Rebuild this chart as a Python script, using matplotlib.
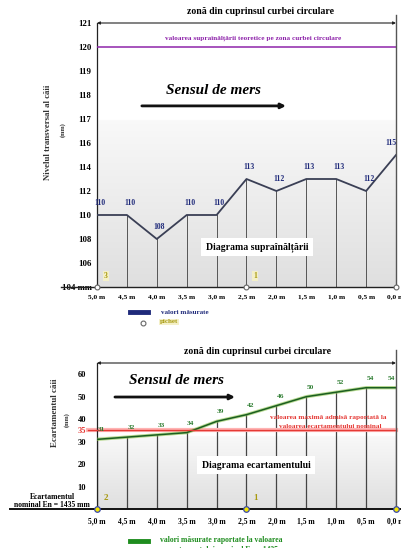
import numpy as np
import matplotlib
matplotlib.use("Agg")
import matplotlib.pyplot as plt
from matplotlib.lines import Line2D

plt.rcParams['font.family'] = ['Liberation Serif', 'DejaVu Serif']
plt.rcParams['font.weight'] = 'bold'

# date
pozitii = [5.0, 4.5, 4.0, 3.5, 3.0, 2.5, 2.0, 1.5, 1.0, 0.5, 0.0]
pozitii_txt = ['5,0 m', '4,5 m', '4,0 m', '3,5 m', '3,0 m', '2,5 m',
               '2,0 m', '1,5 m', '1,0 m', '0,5 m', '0,0 m']
suprainaltare = [110, 110, 108, 110, 110, 113, 112, 113, 113, 112, 115]
ecartament = [31, 32, 33, 34, 39, 42, 46, 50, 52, 54, 54]
supra_teoretica = 120
ecart_max = 35
pichete = [5.0, 2.5, 0.0]
pichete_sus = ['3', '1', '']
pichete_jos = ['2', '1', '']
yticks_sus = [104, 106, 108, 110, 112, 114, 116, 117, 118, 119, 120, 121]
yticks_sus_txt = ['104 mm', '106', '108', '110', '112', '114', '116',
                  '117', '118', '119', '120', '121']
yticks_jos = [10, 20, 30, 35, 40, 50, 60]

W, H = 402, 548
fig = plt.figure(figsize=(W / 100, H / 100), dpi=100)


def fx(p):
    return p / W


def fy(p):
    return 1 - p / H


def fwd(v):
    v = np.asarray(v, dtype=float)
    return np.where(v <= 116, (v - 104) / 2, v - 110)


def inv(u):
    u = np.asarray(u, dtype=float)
    return np.where(u <= 6, 104 + 2 * u, u + 110)


def gradient(ax, start):
    # row 0 = top of the axes
    t = np.linspace(0, 1, 200)[:, None]
    g = np.where(t < start, 1.0, 0.975 - 0.10 * (t - start) / (1 - start))
    img = np.dstack([g, g, g])
    ax.imshow(img, extent=[0, 1, 0, 1], origin='upper', transform=ax.transAxes,
              aspect='auto', zorder=0, interpolation='bilinear')


def lbl_dx(x):
    return -4 if x == 0 else 2


navy = '#1f2a7a'
olive = '#a89a10'

# ---------------- diagrama suprainaltarii ----------------
ax1 = fig.add_axes([fx(97), fy(287), 299 / W, 264 / H])
ax1.set_yscale('function', functions=(fwd, inv))
ax1.set_xlim(5, 0)
ax1.set_ylim(104, 121)
gradient(ax1, 0.37)

ax1.plot(pozitii, suprainaltare, color='#3a3f55', lw=1.3, zorder=3)
for x, v in zip(pozitii, suprainaltare):
    ax1.plot([x, x], [104, v], color='#555555', lw=0.7, zorder=2)
    ax1.annotate(str(v), (x, v), xytext=(lbl_dx(x), 6), textcoords='offset points',
                 ha='center', va='bottom', fontsize=5.5, color=navy,
                 clip_on=False, zorder=4)

ax1.axhline(supra_teoretica, color='#8e24aa', lw=1.1, zorder=3)
ax1.axhline(104, xmin=-0.12, xmax=1.0, color='#222222', lw=1.0,
            clip_on=False, zorder=3)
ax1.plot([0, 0], [104, 121.35], color='#555555', lw=1.0, clip_on=False, zorder=3)
ax1.annotate('', xy=(0, 121), xytext=(5, 121),
             arrowprops=dict(arrowstyle='<|-|>', color='#222222', lw=0.8,
                             mutation_scale=4, shrinkA=0, shrinkB=0))

for x, t in zip(pichete, pichete_sus):
    ax1.plot(x, 104, 'o', ms=3.5, mfc='white', mec='#666666', mew=0.8,
             clip_on=False, zorder=5)
    if t:
        ax1.annotate(t, (x, 104), xytext=(5, 5), textcoords='offset points',
                     fontsize=5.5, color=olive, ha='left', va='bottom',
                     bbox=dict(boxstyle='square,pad=0.15', fc='#f4f0c8', ec='none'))

ax1.set_yticks(yticks_sus)
ax1.set_yticklabels(yticks_sus_txt)
ax1.set_xticks(pozitii)
ax1.set_xticklabels(pozitii_txt)
ax1.tick_params(axis='y', length=0, pad=4, labelsize=6.3)
ax1.tick_params(axis='x', length=0, pad=5, labelsize=5.3)
for s in ['top', 'right', 'bottom']:
    ax1.spines[s].set_visible(False)
ax1.spines['left'].set_color('#222222')
ax1.spines['left'].set_linewidth(0.9)

ax1.text(0.39, 0.746, 'Sensul de mers', transform=ax1.transAxes, ha='center',
         va='center', fontsize=11, style='italic')
ax1.annotate('', xy=(0.632, 0.686), xytext=(0.15, 0.686), xycoords='axes fraction',
             arrowprops=dict(arrowstyle='-|>', color='#111111', lw=2,
                             mutation_scale=7, shrinkA=0, shrinkB=0))
ax1.text(0.535, 0.152, 'Diagrama supraînălțării', transform=ax1.transAxes,
         ha='center', va='center', fontsize=7,
         bbox=dict(boxstyle='square,pad=0.45', fc='white', ec='none'), zorder=6)

fig.text(fx(261), fy(12), 'zonă din cuprinsul curbei circulare', ha='center',
         va='center', fontsize=7)
fig.text(fx(253), fy(38), 'valoarea supraînălțării teoretice pe zona curbei circulare',
         ha='center', va='center', fontsize=5.2, color='#8e24aa')
fig.text(fx(48), fy(132), 'Nivelul transversal al căii', rotation=90,
         ha='center', va='center', fontsize=6.3, color='#333333')
fig.text(fx(63), fy(130), '(mm)', rotation=90, ha='center', va='center',
         fontsize=4.5, color='#333333')

fig.add_artist(Line2D([fx(130), fx(148)], [fy(312), fy(312)], color=navy, lw=3.5))
fig.text(fx(161), fy(312), 'valori măsurate', ha='left', va='center',
         fontsize=5, color=navy)
fig.add_artist(Line2D([fx(143)], [fy(323)], marker='o', ms=3.5, mfc='white',
                      mec='#666666', mew=0.8))
fig.text(fx(160), fy(322), 'pichet', ha='left', va='center', fontsize=5,
         color=olive, bbox=dict(boxstyle='square,pad=0.1', fc='#f4f0c8', ec='none'))

# ---------------- diagrama ecartamentului ----------------
ax2 = fig.add_axes([fx(97), fy(509), 299 / W, 146 / H])
ax2.set_xlim(5, 0)
ax2.set_ylim(0, 65)
gradient(ax2, 0.5)

ax2.plot(pozitii, ecartament, color='#8bc34a', lw=2.4, zorder=3, alpha=0.6)
ax2.plot(pozitii, ecartament, color='#1b5e20', lw=1.1, zorder=3)
for x, v in zip(pozitii, ecartament):
    ax2.plot([x, x], [0, v], color='#444444', lw=0.9, zorder=2)
    ax2.annotate(str(v), (x, v), xytext=(lbl_dx(x) + 1, 5), textcoords='offset points',
                 ha='center', va='bottom', fontsize=5.3, color='#2e7d32',
                 clip_on=False, zorder=4)

ax2.axhline(ecart_max, xmin=-0.03, xmax=1.0, color='#ffb3b3', lw=3,
            clip_on=False, zorder=2)
ax2.axhline(ecart_max, xmin=-0.03, xmax=1.0, color='#e53935', lw=1.0,
            clip_on=False, zorder=3)
ax2.axhline(0, xmin=-0.29, xmax=1.013, color='#111111', lw=1.4,
            clip_on=False, zorder=3)
ax2.plot([0, 0], [0, 71], color='#555555', lw=1.0, clip_on=False, zorder=3)
ax2.annotate('', xy=(0, 65), xytext=(5, 65),
             arrowprops=dict(arrowstyle='<|-|>', color='#222222', lw=0.8,
                             mutation_scale=4, shrinkA=0, shrinkB=0),
             annotation_clip=False)

for x, t in zip(pichete, pichete_jos):
    ax2.plot(x, 0, 'o', ms=4, mfc='#f5e600', mec='#3949ab', mew=0.9,
             clip_on=False, zorder=5)
    if t:
        ax2.annotate(t, (x, 0), xytext=(5, 5), textcoords='offset points',
                     fontsize=6.5, color=olive, ha='left', va='bottom')

ax2.set_yticks(yticks_jos)
ax2.set_yticklabels([str(t) for t in yticks_jos])
for lbl, t in zip(ax2.get_yticklabels(), yticks_jos):
    if t == ecart_max:
        lbl.set_color('#e53935')
ax2.set_xticks(pozitii)
ax2.set_xticklabels(pozitii_txt)
ax2.tick_params(axis='y', length=0, pad=8, labelsize=6)
ax2.tick_params(axis='x', length=0, pad=6, labelsize=5.5)
for s in ['top', 'right', 'bottom']:
    ax2.spines[s].set_visible(False)
ax2.spines['left'].set_color('#222222')
ax2.spines['left'].set_linewidth(0.9)

ax2.text(0.266, 0.877, 'Sensul de mers', transform=ax2.transAxes, ha='center',
         va='center', fontsize=11, style='italic')
ax2.annotate('', xy=(0.4615, 0.767), xytext=(0.06, 0.767), xycoords='axes fraction',
             arrowprops=dict(arrowstyle='-|>', color='#111111', lw=2,
                             mutation_scale=7, shrinkA=0, shrinkB=0))
ax2.text(0.532, 0.301, 'Diagrama ecartamentului', transform=ax2.transAxes,
         ha='center', va='center', fontsize=7,
         bbox=dict(boxstyle='square,pad=0.45', fc='white', ec='none'), zorder=6)

fig.text(fx(258), fy(351), 'zonă din cuprinsul curbei circulare', ha='center',
         va='center', fontsize=7)
fig.text(fx(328), fy(418), 'valoarea maximă admisă raportată la', ha='center',
         va='center', fontsize=5.2, color='#e53935')
fig.text(fx(330), fy(426), 'valoarea ecartamentului nominal', ha='center',
         va='center', fontsize=5.2, color='#e53935')
fig.text(fx(55), fy(413), 'Ecartamentul căii', rotation=90, ha='center',
         va='center', fontsize=6.5, color='#333333')
fig.text(fx(67), fy(420), '(mm)', rotation=90, ha='center', va='center',
         fontsize=4.5, color='#333333')
fig.text(fx(52), fy(497), 'Ecartamentul', ha='center', va='center', fontsize=5.5)
fig.text(fx(52), fy(505), 'nominal En = 1435 mm', ha='center', va='center',
         fontsize=5.5)

fig.add_artist(Line2D([fx(130), fx(148)], [fy(541), fy(541)], color='#1e8c1e', lw=3.5))
fig.text(fx(160), fy(540), 'valori măsurate raportate la valoarea', ha='left',
         va='center', fontsize=5.5, color='#1e8c1e')
fig.text(fx(165), fy(546), 'ecartamentului nominal En = 1435', ha='left',
         va='top', fontsize=5.5, color='#1e8c1e')

fig.savefig('out.png', dpi=100)
